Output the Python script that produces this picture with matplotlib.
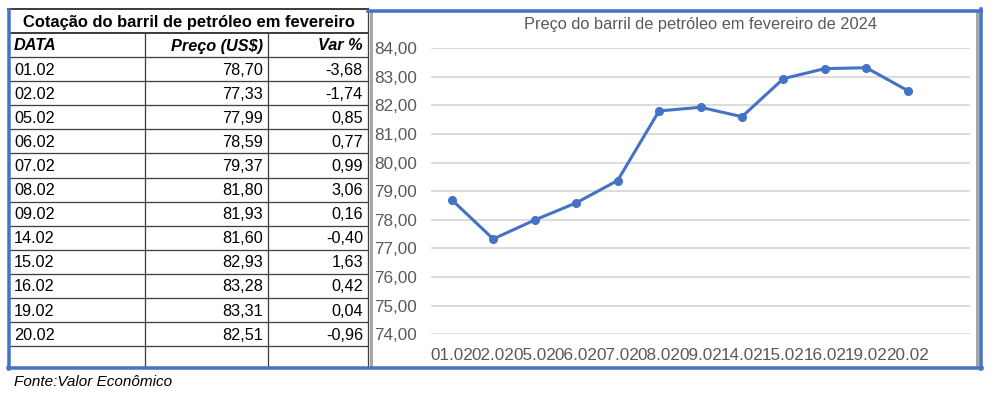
import matplotlib.pyplot as plt
from matplotlib.ticker import FuncFormatter

plt.rcParams['font.family'] = ['Liberation Sans', 'DejaVu Sans']

# dados da tabela / grafico
datas = ['01.02', '02.02', '05.02', '06.02', '07.02', '08.02',
         '09.02', '14.02', '15.02', '16.02', '19.02', '20.02']
precos = [78.70, 77.33, 77.99, 78.59, 79.37, 81.80,
          81.93, 81.60, 82.93, 83.28, 83.31, 82.51]
variacoes = [-3.68, -1.74, 0.85, 0.77, 0.99, 3.06,
             0.16, -0.40, 1.63, 0.42, 0.04, -0.96]
yticks = [74, 75, 76, 77, 78, 79, 80, 81, 82, 83, 84]

BLUE = '#4472C4'
GRID = '#D9D9D9'
TXT = '#595959'
LINE = '#404040'
SEP = '#A6A6A6'


def br(v):
    return f"{v:.2f}".replace('.', ',')


W, H = 994, 397
fig = plt.figure(figsize=(W / 100, H / 100), dpi=100)

# fundo em coordenadas de pixel para a tabela e molduras
bg = fig.add_axes([0, 0, 1, 1])
bg.set_xlim(0, W)
bg.set_ylim(H, 0)
bg.axis('off')

px = 0.72  # pixel -> pontos

# tabela
x0, x1, x2, x3 = 10, 145, 268, 368
row_h = 24.1
y_title, y_head = 10, 33
y_data = 57
n_rows = len(datas) + 1  # linha vazia no final
y_end = 367

bg.plot([8, x3], [8.5, 8.5], color=LINE, lw=2 * px)
bg.plot([x0, x3], [y_head, y_head], color=LINE, lw=2 * px)
bg.plot([x0, x3], [y_data, y_data], color=LINE, lw=1.3 * px)
for k in range(1, n_rows):
    yy = y_data + k * row_h
    bg.plot([x0, x3], [yy, yy], color=LINE, lw=1.3 * px)
for xx in (x1, x2):
    bg.plot([xx, xx], [y_head, y_end], color=LINE, lw=1.3 * px)
bg.plot([x3, x3], [8, y_end], color=LINE, lw=1.3 * px)

bg.text((x0 + x3) / 2, (y_title + y_head) / 2 + 1,
        'Cotação do barril de petróleo em fevereiro',
        ha='center', va='center', fontsize=11.9, fontweight='bold')
yc = (y_head + y_data) / 2 + 1
bg.text(x0 + 4, yc, 'DATA', ha='left', va='center', fontsize=11.7,
        fontweight='bold', style='italic')
bg.text(x2 - 5, yc, 'Preço (US$)', ha='right', va='center', fontsize=11.7,
        fontweight='bold', style='italic')
bg.text(x3 - 5, yc, 'Var %', ha='right', va='center', fontsize=11.7,
        fontweight='bold', style='italic')
for i, (d, p, v) in enumerate(zip(datas, precos, variacoes)):
    yy = y_data + (i + 0.5) * row_h + 1
    bg.text(x0 + 4, yy, d, ha='left', va='center', fontsize=11.7)
    bg.text(x2 - 5, yy, br(p), ha='right', va='center', fontsize=11.7)
    bg.text(x3 - 5, yy, br(v), ha='right', va='center', fontsize=11.7)

bg.text(x0 + 4, 382, 'Fonte:Valor Econômico', ha='left', va='center',
        fontsize=11, style='italic')

# molduras
bg.plot([371, 371], [12, 366], color=SEP, lw=3 * px)
bg.plot([977, 977], [12, 366], color=SEP, lw=3 * px)
bg.plot([9, 9], [10, 369], color=BLUE, lw=3.5 * px)
bg.plot([368, 981], [10.5, 10.5], color=BLUE, lw=3.5 * px)
bg.plot([7.5, 982], [368, 368], color=BLUE, lw=3.5 * px)
bg.plot([980.5, 980.5], [9, 369], color=BLUE, lw=3.5 * px)

# grafico
left, right = 431, 970
top, bottom = 48, 334.3
ax = fig.add_axes([left / W, (H - bottom) / H, (right - left) / W, (bottom - top) / H])
xs = list(range(len(datas)))
ax.plot(xs, precos, color=BLUE, lw=2.2, marker='o', markersize=5.5, zorder=3)
ax.set_xlim(-0.5, len(datas) + 0.5)
ax.set_ylim(74, 84)
ax.set_yticks(yticks)
ax.yaxis.set_major_formatter(FuncFormatter(lambda v, _: br(v)))
ax.set_xticks(list(range(len(datas) + 1)))
ax.set_xticklabels(datas + [''])
ax.grid(axis='y', color=GRID, lw=1.3)
ax.set_axisbelow(True)
for s in ax.spines.values():
    s.set_visible(False)
ax.tick_params(axis='both', length=0, colors=TXT, labelsize=12.3)
ax.tick_params(axis='y', pad=10)
ax.tick_params(axis='x', pad=10)
ax.patch.set_alpha(0)

fig.text(700 / W, 1 - 25 / H, 'Preço do barril de petróleo em fevereiro de 2024',
         ha='center', va='center', fontsize=11.8, color=TXT)

fig.savefig('out.png', dpi=100)
